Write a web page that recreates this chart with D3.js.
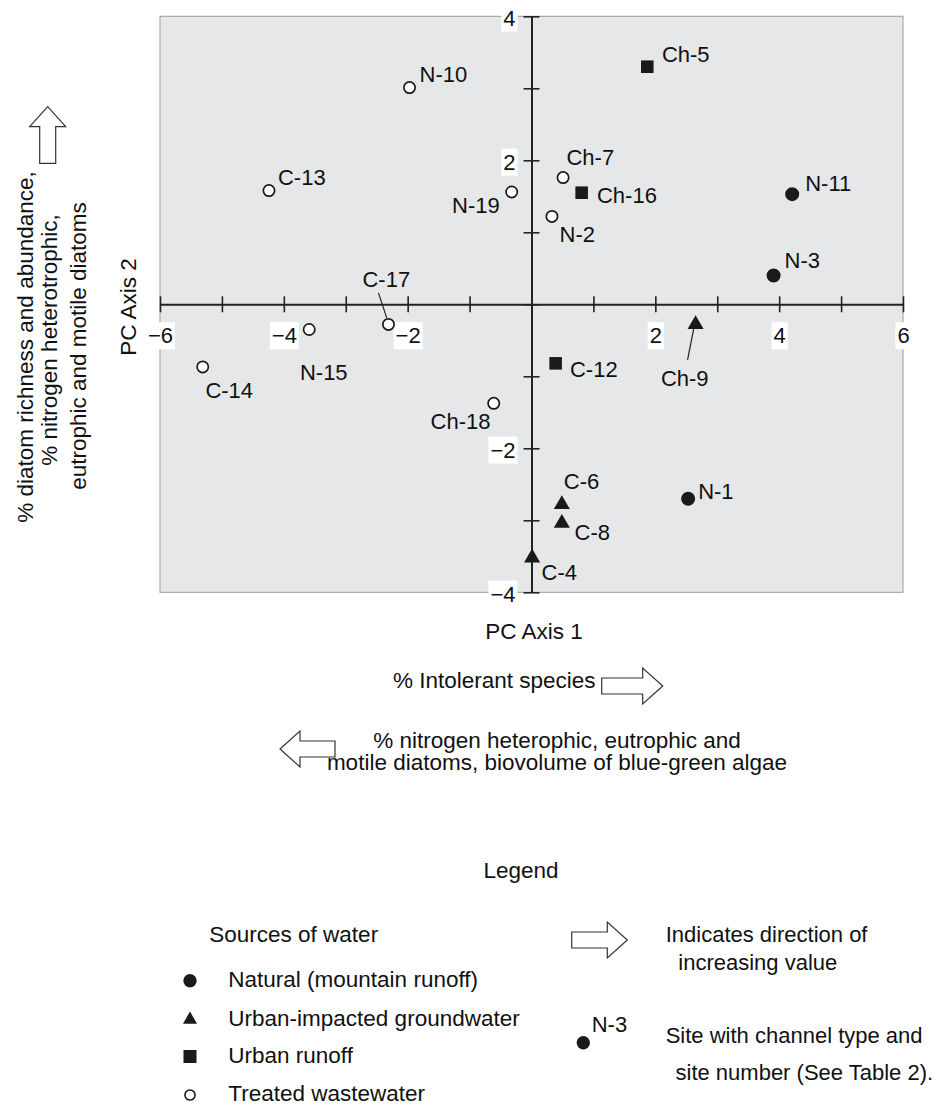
<!DOCTYPE html>
<html>
<head>
<meta charset="utf-8">
<script src="https://cdn.jsdelivr.net/npm/d3@7"></script>
<style>
  body { margin: 0; background: #fff; }
  svg text { font-family: "Liberation Sans", Arial, Helvetica, sans-serif; fill: #111; }
</style>
</head>
<body>
<div id="chart"></div>
<script>
// PCA site scores
const sites  = ["N-10", "C-13", "N-19", "N-2", "Ch-7", "Ch-5", "Ch-16", "N-11", "N-3", "Ch-9",
                "N-15", "C-17", "C-14", "Ch-18", "C-12", "C-6", "C-8", "C-4", "N-1"];
const pc1    = [-1.97, -4.24, -0.32, 0.33, 0.51, 1.87, 0.81, 4.21, 3.91, 2.65,
                -3.59, -2.31, -5.31, -0.61, 0.39, 0.49, 0.49, 0.01, 2.53];
const pc2    = [3.01, 1.58, 1.56, 1.22, 1.76, 3.30, 1.55, 1.53, 0.40, -0.28,
                -0.35, -0.28, -0.87, -1.375, -0.82, -2.78, -3.04, -3.52, -2.70];
const source = ["wastewater", "wastewater", "wastewater", "wastewater", "wastewater", "runoff", "runoff",
                "natural", "natural", "groundwater", "wastewater", "wastewater", "wastewater", "wastewater",
                "runoff", "groundwater", "groundwater", "groundwater", "natural"];

const sourceKeys   = ["natural", "groundwater", "runoff", "wastewater"];
const sourceLabels = ["Natural (mountain runoff)", "Urban-impacted groundwater", "Urban runoff", "Treated wastewater"];

const xTicks = d3.range(-6, 7);
const yTicks = d3.range(-4, 5);

// label placement (pixels from marker), leader lines where the figure has them
const labelPos = {
  "N-10": [10, -6, "start"], "C-13": [9, -6, "start"], "N-19": [-12, 21.5, "end"],
  "N-2": [7.7, 25.6, "start"], "Ch-7": [3.4, -12.3, "start"], "Ch-5": [14.6, -4.4, "start"],
  "Ch-16": [15.3, 10.6, "start"], "N-11": [13, -3, "start"], "N-3": [11, -8, "start"],
  "Ch-9": [-34.7, 62, "start"], "N-15": [-9.3, 50.7, "start"], "C-17": [-26, -37.6, "start"],
  "C-14": [2.7, 30.6, "start"], "Ch-18": [-3.3, 26, "end"], "C-12": [14.3, 14, "start"],
  "C-6": [2, -15.7, "start"], "C-8": [12.7, 16.7, "start"], "C-4": [9.4, 22.4, "start"],
  "N-1": [10, 0.3, "start"]
};
const leaders = {
  "C-17": [-10, -31.6, -1.7, -6.3],
  "Ch-9": [-8, 35.3, -1.4, 2]
};

const width = 945, height = 1106;
const plot = { left: 160, right: 903, top: 16.3, bottom: 592.3 };
const bigFont = 22.5;

const svg = d3.select("#chart").append("svg")
  .attr("width", width)
  .attr("height", height);

const x = d3.scaleLinear().domain([-6, 6]).range([plot.left, plot.right]);
const y = d3.scaleLinear().domain([-4, 4]).range([plot.bottom, plot.top]);

svg.append("rect")
  .attr("x", plot.left).attr("y", plot.top)
  .attr("width", plot.right - plot.left).attr("height", plot.bottom - plot.top)
  .attr("fill", "#e6e7e9")
  .attr("stroke", "#9c9c9c")
  .attr("stroke-width", 1);

const fmt = d => (d % 2 === 0 && d !== 0) ? d3.format("d")(d) : "";

// axes cross at the origin
const gx = svg.append("g")
  .attr("transform", `translate(0,${y(0)})`)
  .call(d3.axisBottom(x).tickValues(xTicks).tickSize(8).tickSizeOuter(0).tickFormat(fmt));
gx.selectAll(".tick line").attr("y1", -8).attr("y2", 8);
gx.selectAll(".tick text").attr("y", 31).attr("dy", "0.36em");

const gy = svg.append("g")
  .attr("transform", `translate(${x(0)},0)`)
  .call(d3.axisLeft(y).tickValues(yTicks).tickSize(8).tickSizeOuter(0).tickFormat(fmt));
gy.selectAll(".tick line").attr("x1", -8).attr("x2", 8);
gy.selectAll(".tick text").attr("x", -16).attr("dy", "0.4em");

[gx, gy].forEach(g => {
  g.select(".domain").attr("stroke", "#222").attr("stroke-width", 2);
  g.selectAll(".tick line").attr("stroke", "#222").attr("stroke-width", 1.6);
  g.selectAll(".tick text")
    .attr("font-size", 22)
    .attr("fill", "#111")
    .style("font-family", "'Liberation Sans', Arial, sans-serif");
  // white boxes behind the tick numbers
  g.selectAll(".tick").each(function () {
    const t = d3.select(this).select("text");
    if (!t.text()) return;
    const b = t.node().getBBox();
    d3.select(this).insert("rect", "text")
      .attr("x", b.x - 2).attr("y", b.y - 1)
      .attr("width", b.width + 4).attr("height", b.height + 2)
      .attr("fill", "#fff");
  });
});

// markers
const symbolFor = {
  natural: d3.symbol(d3.symbolCircle, 154),
  groundwater: d3.symbol(d3.symbolTriangle, 112),
  runoff: d3.symbol(d3.symbolSquare, 158),
  wastewater: d3.symbol(d3.symbolCircle, 100)
};

const data = sites.map((s, i) => ({ name: s, pc1: pc1[i], pc2: pc2[i], source: source[i] }));

const node = svg.append("g").selectAll("g")
  .data(data)
  .join("g")
  .attr("transform", d => `translate(${x(d.pc1)},${y(d.pc2)})`);

node.filter(d => leaders[d.name]).append("line")
  .attr("x1", d => leaders[d.name][0]).attr("y1", d => leaders[d.name][1])
  .attr("x2", d => leaders[d.name][2]).attr("y2", d => leaders[d.name][3])
  .attr("stroke", "#222")
  .attr("stroke-width", 1.2);

node.append("path")
  .attr("d", d => symbolFor[d.source]())
  .attr("fill", d => d.source === "wastewater" ? "#fff" : "#1a1a1a")
  .attr("stroke", "#1a1a1a")
  .attr("stroke-width", d => d.source === "wastewater" ? 1.7 : 0);

node.append("text")
  .text(d => d.name)
  .attr("x", d => labelPos[d.name][0])
  .attr("y", d => labelPos[d.name][1])
  .attr("text-anchor", d => labelPos[d.name][2])
  .attr("font-size", 22);

// block arrows
function blockArrow(tipX, tipY, dir, shaft) {
  const headLen = 20, headHalf = 18, shaftHalf = 8;
  const pts = [[0, 0], [headLen, -headHalf], [headLen, -shaftHalf], [headLen + shaft, -shaftHalf],
               [headLen + shaft, shaftHalf], [headLen, shaftHalf], [headLen, headHalf]];
  const rot = { left: 0, right: 180, up: 90, down: -90 }[dir];
  svg.append("path")
    .attr("d", d3.line()(pts) + "Z")
    .attr("transform", `translate(${tipX},${tipY}) rotate(${rot})`)
    .attr("fill", "#fff")
    .attr("stroke", "#333")
    .attr("stroke-width", 1.2);
}

const txt = (x0, y0, s, anchor = "start", rot = 0) =>
  svg.append("text")
    .attr("transform", `translate(${x0},${y0}) rotate(${rot})`)
    .attr("text-anchor", anchor)
    .attr("font-size", bigFont)
    .text(s);

// axis titles
txt(534, 639, "PC Axis 1", "middle");
txt(393, 687.5, "% Intolerant species");
blockArrow(662.7, 686, "right", 41);
txt(557, 747.5, "% nitrogen heterophic, eutrophic and", "middle");
txt(557, 769.5, "motile diatoms, biovolume of blue-green algae", "middle");
blockArrow(280, 749, "left", 35);

txt(136, 307, "PC Axis 2", "middle", -90);
txt(33, 347, "% diatom richness and abundance,", "middle", -90);
txt(57, 340, "% nitrogen heterotrophic,", "middle", -90);
txt(86, 346, "eutrophic and motile diatoms", "middle", -90);
blockArrow(47.7, 106.7, "up", 36.6);

// legend
txt(521, 877.5, "Legend", "middle");
txt(209.3, 941.7, "Sources of water");

const legendY = [980.7, 1019.6, 1056.5, 1095];
const legendSym = {
  natural: d3.symbol(d3.symbolCircle, 140),
  groundwater: d3.symbol(d3.symbolTriangle, 85),
  runoff: d3.symbol(d3.symbolSquare, 170),
  wastewater: d3.symbol(d3.symbolCircle, 80)
};
const leg = svg.append("g").selectAll("g")
  .data(sourceKeys)
  .join("g")
  .attr("transform", (d, i) => `translate(190,${legendY[i]})`);
leg.append("path")
  .attr("d", d => legendSym[d]())
  .attr("fill", d => d === "wastewater" ? "#fff" : "#1a1a1a")
  .attr("stroke", "#1a1a1a")
  .attr("stroke-width", d => d === "wastewater" ? 1.6 : 0);
leg.append("text")
  .attr("x", 38.3)
  .attr("y", 6.3)
  .attr("font-size", bigFont)
  .text((d, i) => sourceLabels[i]);

blockArrow(627.3, 940, "right", 35.6);
txt(665.7, 941.7, "Indicates direction of").attr("font-size", 22);
txt(678.3, 970, "increasing value").attr("font-size", 22);

svg.append("path")
  .attr("d", d3.symbol(d3.symbolCircle, 140)())
  .attr("transform", "translate(583.3,1042.7)")
  .attr("fill", "#1a1a1a");
txt(591.7, 1031.7, "N-3").attr("font-size", 22);
txt(665.7, 1043.3, "Site with channel type and").attr("font-size", 22);
txt(675.5, 1080, "site number (See Table 2).").attr("font-size", 22);
</script>
</body>
</html>
